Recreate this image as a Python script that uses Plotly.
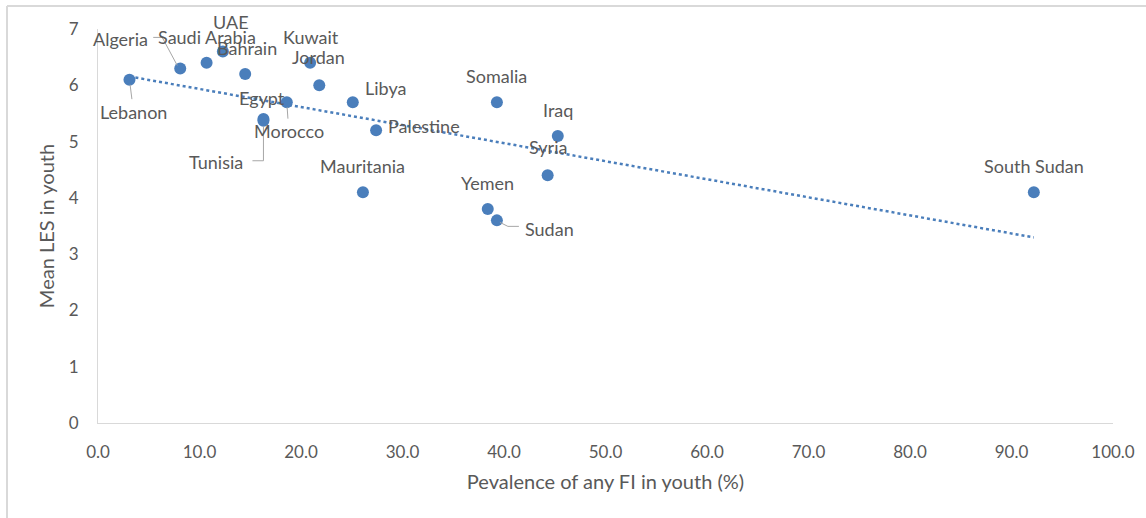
import numpy as np
import plotly.graph_objects as go

# Country-level youth data
countries = ["Lebanon", "Algeria", "Saudi Arabia", "UAE", "Bahrain", "Egypt", "Tunisia",
             "Morocco", "Kuwait", "Jordan", "Libya", "Palestine", "Mauritania", "Somalia",
             "Iraq", "Syria", "Yemen", "Sudan", "South Sudan"]
fi_prevalence = [3.1, 8.1, 10.7, 12.3, 14.5, 16.3, 16.3,
                 18.6, 20.9, 21.8, 25.1, 27.4, 26.1, 39.3,
                 45.3, 44.3, 38.4, 39.3, 92.2]
mean_les = [6.1, 6.3, 6.4, 6.6, 6.2, 5.4, 5.37,
            5.7, 6.4, 6.0, 5.7, 5.2, 4.1, 5.7,
            5.1, 4.4, 3.8, 3.6, 4.1]

x_ticks = [0, 10, 20, 30, 40, 50, 60, 70, 80, 90, 100]
y_ticks = [0, 1, 2, 3, 4, 5, 6, 7]

# Label placement: pixel offset of each label from its marker, and whether a
# straight leader line is drawn
label_style = {
    "Lebanon": (4, 32, True),
    "Algeria": (-60, -29, False),
    "Saudi Arabia": (0, -26, False),
    "UAE": (8, -30, False),
    "Bahrain": (2, -26, False),
    "Egypt": (-1, -21, False),
    "Tunisia": (-47, 41, False),
    "Morocco": (2, 29, True),
    "Kuwait": (1, -26, False),
    "Jordan": (-1, -28, False),
    "Libya": (33, -14, False),
    "Palestine": (48, -4, False),
    "Mauritania": (0, -26, False),
    "Somalia": (0, -26, False),
    "Iraq": (0, -26, False),
    "Syria": (0, -28, False),
    "Yemen": (0, -26, False),
    "Sudan": (53, 9, False),
    "South Sudan": (0, -26, False),
}

# Bent leader lines (pixel paths relative to the marker, y pointing up)
bent_leaders = {
    "Algeria": "M -27,31 L -18,31 L -3,3",
    "Tunisia": "M 0,-6 L 0,-40 L -11,-40",
    "Sudan": "M 3,-2 L 11,-6 L 22,-6",
}

FONT = "Lato, 'Open Sans', sans-serif"
TEXT = "#595959"
BLUE = "#4a7ebb"
GRID = "#d9d9d9"
LEADER = "#a6a6a6"

# Linear trendline over the observed range
xs = np.array(fi_prevalence)
ys = np.array(mean_les)
slope, intercept = np.polyfit(xs, ys, 1)
trend_x = np.array([xs.min(), xs.max()])
trend_y = slope * trend_x + intercept

fig = go.Figure()
fig.add_trace(go.Scatter(
    x=trend_x, y=trend_y, mode="lines",
    line=dict(color=BLUE, width=2.5, dash="dot"),
    hoverinfo="skip", showlegend=False,
))
fig.add_trace(go.Scatter(
    x=fi_prevalence, y=mean_les, mode="markers",
    marker=dict(color=BLUE, size=12, line=dict(width=0)),
    text=countries, showlegend=False,
))

for name, xv, yv in zip(countries, fi_prevalence, mean_les):
    dx, dy, leader = label_style[name]
    fig.add_annotation(
        x=xv, y=yv, text=name, ax=dx, ay=dy,
        showarrow=True, arrowhead=0, arrowwidth=1,
        arrowcolor=LEADER if leader else "rgba(0,0,0,0)",
        standoff=5, font=dict(family=FONT, size=18, color=TEXT),
    )
    if name in bent_leaders:
        fig.add_shape(
            type="path", xref="x", yref="y",
            xsizemode="pixel", ysizemode="pixel", xanchor=xv, yanchor=yv,
            path=bent_leaders[name], line=dict(color=LEADER, width=1),
            layer="above",
        )

# Chart-area border
fig.add_shape(type="line", xref="paper", yref="paper",
              x0=-91 / 1015, x1=1.05, y0=1 + 23 / 394, y1=1 + 23 / 394,
              line=dict(color=GRID, width=2))
fig.add_shape(type="line", xref="paper", yref="paper",
              x0=-91 / 1015, x1=-91 / 1015, y0=1 + 23 / 394, y1=-0.3,
              line=dict(color=GRID, width=2))

fig.update_layout(
    width=1146, height=518,
    margin=dict(l=98, r=33, t=29, b=95),
    paper_bgcolor="white", plot_bgcolor="white",
    font=dict(family=FONT, size=17, color=TEXT),
    xaxis=dict(
        range=[0, 100], tickvals=x_ticks, tickformat=".1f",
        showgrid=False, zeroline=False, showline=True, linecolor=GRID, linewidth=1,
        ticks="", ticklabelstandoff=14,
        tickfont=dict(family=FONT, size=17, color=TEXT),
        title=dict(text="Pevalence of any FI in youth (%)", standoff=13,
                   font=dict(family=FONT, size=20, color=TEXT)),
    ),
    yaxis=dict(
        range=[0, 7], tickvals=y_ticks,
        showgrid=False, zeroline=False, showline=True, linecolor=GRID, linewidth=1,
        ticks="", ticklabelstandoff=15,
        tickfont=dict(family=FONT, size=17, color=TEXT),
        title=dict(text="Mean LES in youth", standoff=8,
                   font=dict(family=FONT, size=20, color=TEXT)),
    ),
)

fig.write_html("out.html")
